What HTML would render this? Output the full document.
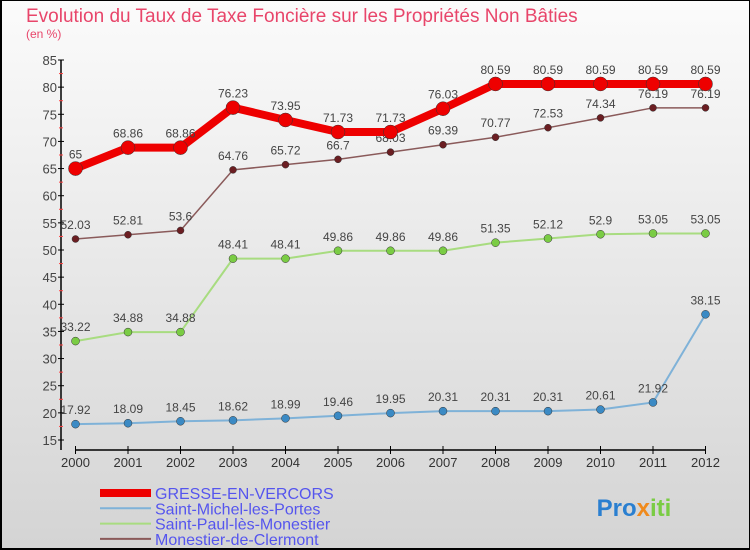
<!DOCTYPE html>
<html><head><meta charset="utf-8"><style>
body{margin:0}
#c{width:750px;height:550px;position:relative;background:linear-gradient(#fbfbfb,#d4d4d4);box-sizing:border-box;border:1px solid #000;border-left:2px solid #000;border-bottom:2px solid #000;font-family:"Liberation Sans",sans-serif;overflow:hidden}
#s{position:absolute;left:-2px;top:-1px}
</style></head><body>
<div id="c">
<svg width="750" height="550" id="s"></svg>
</div>
<script>
const years=["2000","2001","2002","2003","2004","2005","2006","2007","2008","2009","2010","2011","2012"];
const gresse=[65,68.86,68.86,76.23,73.95,71.73,71.73,76.03,80.59,80.59,80.59,80.59,80.59];
const michel=[17.92,18.09,18.45,18.62,18.99,19.46,19.95,20.31,20.31,20.31,20.61,21.92,38.15];
const paul=[33.22,34.88,34.88,48.41,48.41,49.86,49.86,49.86,51.35,52.12,52.9,53.05,53.05];
const monest=[52.03,52.81,53.6,64.76,65.72,66.7,68.03,69.39,70.77,72.53,74.34,76.19,76.19];
const yTicks=[15,20,25,30,35,40,45,50,55,60,65,70,75,80,85];
const NS="http://www.w3.org/2000/svg";
const s=document.getElementById('s');
const X=i=>75.5+i*52.5;
const Y=v=>440-(v-15)*(380/70);
function el(t,a,p){const e=document.createElementNS(NS,t);for(const k in a)e.setAttribute(k,a[k]);(p||s).appendChild(e);return e;}
function txt(x,y,str,size,fill,anchor){const e=el('text',{x:x,y:y,'font-size':size,fill:fill,'text-anchor':anchor||'middle'});e.textContent=str;return e;}
let t=txt(26,22,"Evolution du Taux de Taxe Foncière sur les Propriétés Non Bâties",19,"#e8456a","start");

t=txt(26,38,"(en %)",12,"#e8456a","start");

let a=el('line',{x1:61,y1:60,x2:61,y2:450,stroke:'#000','stroke-width':1.5});

a=el('line',{x1:75,y1:450,x2:706,y2:450,stroke:'#000','stroke-width':1.5});

yTicks.forEach(v=>{
  el('line',{x1:58,y1:Y(v),x2:64,y2:Y(v),stroke:'#000'});
  if(v<85) el('line',{x1:59,y1:Y(v+2.5),x2:63,y2:Y(v+2.5),stroke:'#f44'});
  const l=txt(57,Y(v)+5,String(v),13,"#444","end");
  
});
years.forEach((y,i)=>{
  el('line',{x1:X(i),y1:446,x2:X(i),y2:454,stroke:'#000'});
  const l=txt(X(i),467,y,13,"#333");
  
});
function series(data,color,dot,w,r,name){
  const g=el('g',{});
  
  el('polyline',{points:data.map((v,i)=>X(i)+','+Y(v)).join(' '),fill:'none',stroke:color,'stroke-width':w,'stroke-linejoin':'round'},g);
  data.forEach((v,i)=>{
    const c=el('circle',{cx:X(i),cy:Y(v),r:r,fill:dot,stroke:'#333','stroke-width':0.5},g);
    
    const l=txt(X(i),Y(v)-10,String(v),12,"#444");
    g.appendChild(l);
  });
}
series(michel,'#7fb2d8','#3b8ac4',2,4,'series-saint-michel');
series(paul,'#a8dc80','#7acc44',2,4,'series-saint-paul');
series(monest,'#8a5a5a','#6b1e22',1.5,3.5,'series-monestier');
series(gresse,'#ee0000','#ee0000',8,7,'series-gresse');
const leg=[["GRESSE-EN-VERCORS","#ee0000",8],["Saint-Michel-les-Portes","#7fb2d8",2],["Saint-Paul-lès-Monestier","#a8dc80",2],["Monestier-de-Clermont","#8a5a5a",2]];
leg.forEach((d,i)=>{
  const g=el('g',{});
  
  const y=493+i*15.3;
  el('line',{x1:100,y1:y,x2:151,y2:y,stroke:d[1],'stroke-width':d[2]},g);
  g.appendChild(txt(155,y+6,d[0],16,"#5555ee","start"));
});
const p=txt(634,516,"",24,"#f08a1c");

p.setAttribute('font-weight','bold');
[["Pro","#2a7fd0"],["x","#f08a1c"],["iti","#7acc44"]].forEach(q=>{const ts=el('tspan',{fill:q[1]},p);ts.textContent=q[0];});
</script>
</body></html>
